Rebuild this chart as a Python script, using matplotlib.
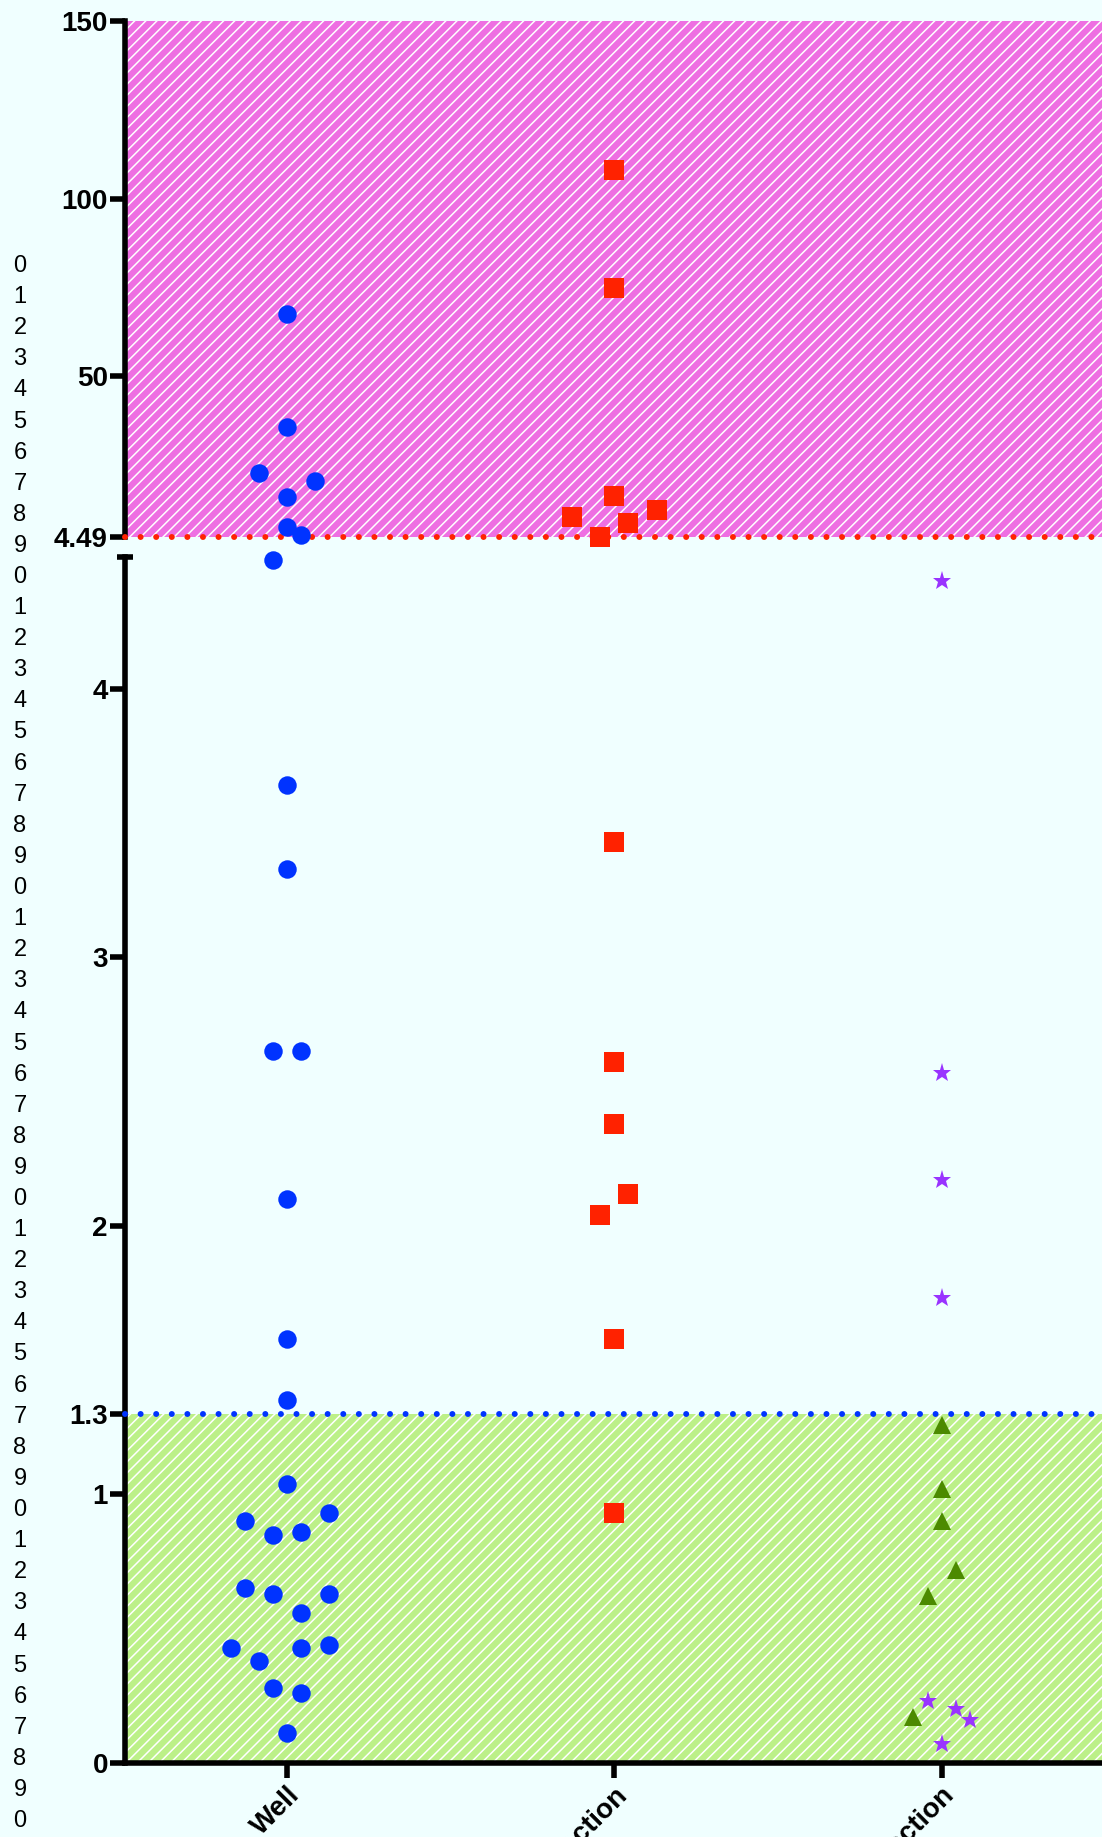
import matplotlib
matplotlib.use('Agg')
import matplotlib.pyplot as plt

plt.rcParams['font.family'] = ['Liberation Sans', 'DejaVu Sans']
plt.rcParams['hatch.linewidth'] = 1.1

# data
groups = ['Well', 'Infection', 'Co-infection']

well_vals = [67.3, 35.6, 22.6, 20.3, 15.8, 7.3, 5.05, 4.48,
             3.64, 3.33, 2.65, 2.65, 2.10, 1.58, 1.35, 1.04, 0.93, 0.90, 0.85, 0.86,
             0.65, 0.63, 0.63, 0.56, 0.43, 0.43, 0.44, 0.38, 0.28, 0.26, 0.11]
well_slot = [0, 0, -2, 2, 0, 0, 1, -1,
             0, 0, -1, 1, 0, 0, 0, 0, 3, -3, -1, 1,
             -3, -1, 3, 1, -4, 1, 3, -2, -1, 1, 0]

inf_vals = [108.0, 74.9, 16.1, 12.2, 10.2, 8.4, 4.6,
            3.43, 2.61, 2.38, 2.12, 2.04, 1.58, 0.93]
inf_slot = [0, 0, 0, 3, -3, 1, -1,
            0, 0, 0, 1, -1, 0, 0]

star_vals = [4.40, 2.57, 2.17, 1.73, 0.23, 0.20, 0.16, 0.07]
star_slot = [0, 0, 0, 0, -1, 1, 2, 0]

tri_vals = [1.26, 1.02, 0.90, 0.72, 0.62, 0.17]
tri_slot = [0, 0, 0, 1, -1, -2]

cut = 4.49
low_cut = 1.3
ymax = 150
upper_ticks = [4.49, 50, 100, 150]
upper_labels = ['4.49', '50', '100', '150']
lower_ticks = [0, 1, 1.3, 2, 3, 4]
lower_labels = ['0', '1', '1.3', '2', '3', '4']
side_digits = '0123456789' * 5 + '0'

bg = '#F0FFFF'
pink = '#EE6FE2'
green = '#BCF088'
step = 0.043

W, H = 1102, 1837
fig = plt.figure(figsize=(W / 100, H / 100), dpi=100, facecolor=bg)

x0 = 125 / W
ax_top = fig.add_axes([x0, (H - 537) / H, 1 - x0, 515.6 / H])
ax_low = fig.add_axes([x0, (H - 1763) / H, 1 - x0, 1206 / H])

for ax in (ax_top, ax_low):
    ax.set_facecolor(bg)
    ax.set_xlim(-0.495, 2.49)
    for s in ('top', 'right'):
        ax.spines[s].set_visible(False)
    ax.spines['left'].set_linewidth(4)
    ax.tick_params(axis='y', length=10.8, width=4, pad=1.5, labelsize=20)

ax_top.spines['bottom'].set_visible(False)
ax_top.set_xticks([])
ax_top.set_ylim(cut, ymax)
ax_low.set_ylim(0, cut)
ax_low.spines['bottom'].set_linewidth(4)

ax_top.set_yticks(upper_ticks)
ax_top.set_yticklabels(upper_labels, fontweight='bold')
ax_low.set_yticks(lower_ticks)
ax_low.set_yticklabels(lower_labels, fontweight='bold')
# cap at the top of the lower axis segment
ax_low.set_yticks([cut], minor=True)
ax_low.tick_params(axis='y', which='minor', direction='inout', length=11.5, width=4)

ax_low.set_xticks(range(len(groups)))
ax_low.set_xticklabels(groups, rotation=45, ha='right', va='top',
                       rotation_mode='anchor', fontweight='bold', fontsize=20)
ax_low.tick_params(axis='x', length=10.8, width=4, pad=2.5)

# shaded ranges
ax_top.axhspan(cut, ymax, facecolor=pink, edgecolor='white', lw=0, hatch='///', zorder=0)
ax_low.axhspan(0, low_cut, facecolor=green, edgecolor='white', lw=0, hatch='///', zorder=0)

dots = (0, (0.01, 2.6))
ax_top.axhline(cut, color='#FF2200', lw=4.3, ls=dots, dash_capstyle='round',
               clip_on=False, zorder=3)
ax_low.axhline(low_cut, color='#0033FF', lw=4.3, ls=dots, dash_capstyle='round',
               clip_on=False, zorder=3)

series = [
    (0, well_vals, well_slot, 'o', '#0033FF', 13.3),
    (1, inf_vals, inf_slot, 's', '#FF2200', 14.2),
    (2, star_vals, star_slot, '*', '#9933FF', 14),
    (2, tri_vals, tri_slot, '^', '#4C8A00', 12.7),
]
for gx, vals, slots, mk, col, ms in series:
    for ax, hi in ((ax_top, True), (ax_low, False)):
        xs = [gx + k * step for v, k in zip(vals, slots) if (v >= cut) == hi]
        ys = [v for v in vals if (v >= cut) == hi]
        ax.plot(xs, ys, ls='none', marker=mk, color=col, ms=ms, mew=0,
                clip_on=False, zorder=4)

for i, ch in enumerate(side_digits):
    y = 266 + i * 31.1
    fig.text(20 / W, 1 - y / H, ch, ha='center', va='center', fontsize=17)

fig.savefig('out.png', dpi=100, facecolor=bg)
